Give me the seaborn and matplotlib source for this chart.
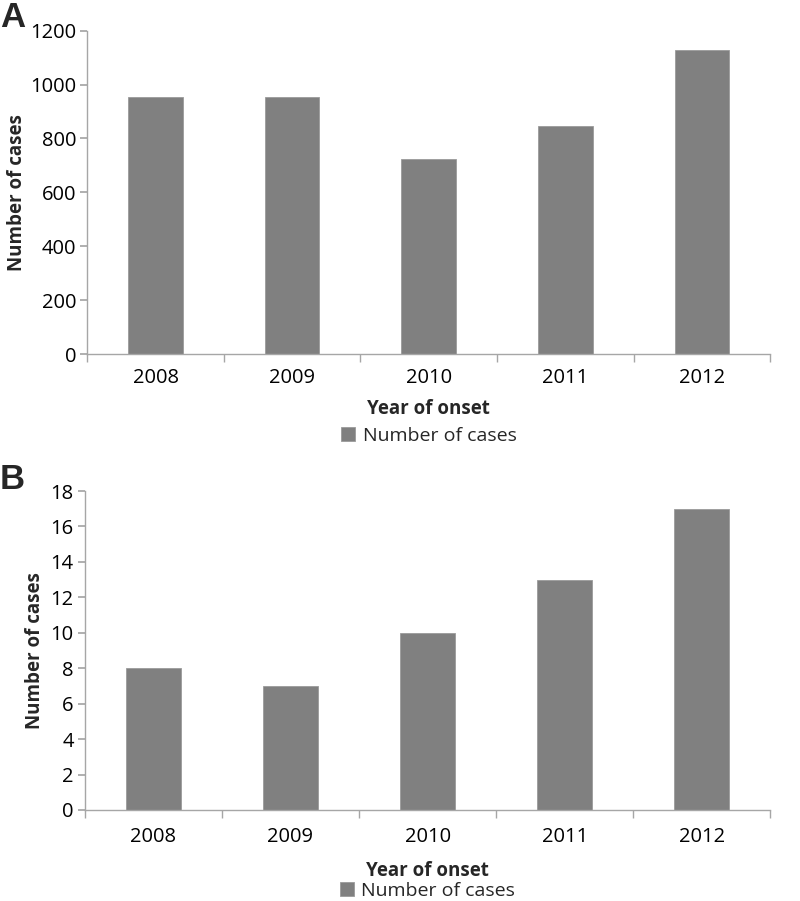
import matplotlib
matplotlib.use("Agg")
import matplotlib.pyplot as plt
import seaborn as sns
import numpy as np
import pandas as pd

# データ
years = ["2008", "2009", "2010", "2011", "2012"]
cases_a = [955, 953, 723, 845, 1130]
cases_b = [8, 7, 10, 13, 17]

sns.set_theme(style="white")
plt.rcParams['font.family'] = ['Open Sans', 'DejaVu Sans']

BAR_COLOR = "#808080"
AXIS_COLOR = "#a6a6a6"


def draw_panel(ax, values, ymax, ystep, letter, letter_y, xpad, xlabpad, leg_y, ylabpad):
    df = pd.DataFrame({"year": years, "cases": values})
    sns.barplot(data=df, x="year", y="cases", color=BAR_COLOR, width=0.4,
                saturation=1, label="Number of cases", ax=ax, edgecolor="#9a9a9a",
                linewidth=0.6)
    ax.set_ylim(0, ymax)
    ax.set_xlim(-0.5, len(years) - 0.5)
    ax.set_yticks(np.arange(0, ymax + 1, ystep))
    # 軸
    for s in ["top", "right"]:
        ax.spines[s].set_visible(False)
    for s in ["left", "bottom"]:
        ax.spines[s].set_color(AXIS_COLOR)
        ax.spines[s].set_linewidth(1.0)
    ax.tick_params(axis="y", which="major", left=True, length=5, color=AXIS_COLOR,
                   labelsize=14.5, pad=3, labelcolor="black")
    ax.tick_params(axis="x", which="major", bottom=False, labelsize=14.5, pad=xpad,
                   labelcolor="black")
    ax.set_xticks(np.arange(-0.5, len(years)), minor=True)
    ax.tick_params(axis="x", which="minor", bottom=True, length=6, color=AXIS_COLOR)
    ax.set_xlabel("Year of onset", fontsize=13.5, fontweight="bold", labelpad=xlabpad)
    ax.set_ylabel("Number of cases", fontsize=13.5, fontweight="bold", labelpad=ylabpad)
    ax.legend(loc="upper center", bbox_to_anchor=(0.5, leg_y), frameon=False,
              fontsize=14, handlelength=0.7, handleheight=0.7, handletextpad=0.4,
              borderaxespad=0)
    # パネル記号
    ax.figure.text(0.0, letter_y, letter, fontsize=25, fontweight="bold",
                   ha="left", va="top", family=['Liberation Sans', 'DejaVu Sans'])


fig = plt.figure(figsize=(8, 9.01), dpi=100)
ax1 = fig.add_axes([0.109, 0.607, 0.854, 0.359])
ax2 = fig.add_axes([0.106, 0.101, 0.857, 0.354])

draw_panel(ax1, cases_a, 1200, 200, "A", 0.999, xpad=4, xlabpad=8, leg_y=-0.2, ylabpad=2)
draw_panel(ax2, cases_b, 18, 2, "B", 0.486, xpad=6, xlabpad=10, leg_y=-0.2, ylabpad=4)

fig.savefig("out.png", dpi=100)
